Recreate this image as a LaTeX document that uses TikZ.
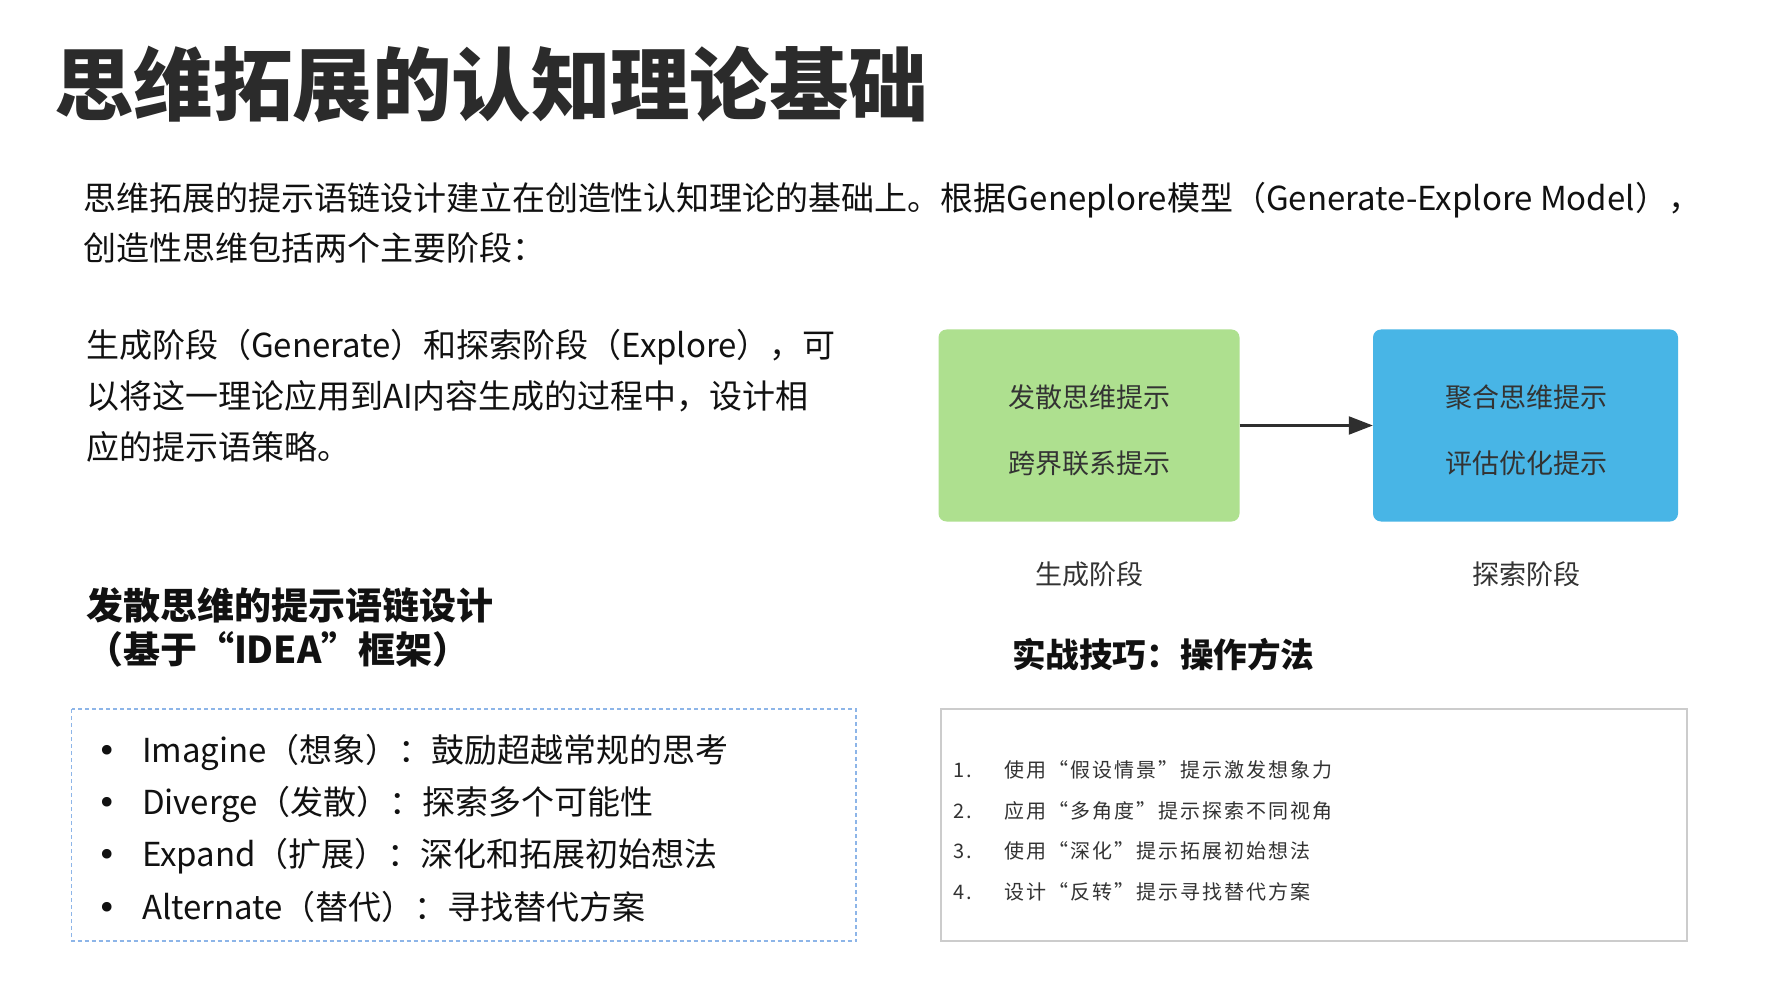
\documentclass[tikz,border=0pt]{standalone}
\usepackage{fontspec}
\setmainfont{Noto Sans CJK SC}
\newfontfamily\symfont{DejaVu Sans}
\usetikzlibrary{arrows.meta}
\definecolor{titlec}{HTML}{2B2B2B}
\definecolor{bodyc}{HTML}{111111}
\definecolor{boxtxt}{HTML}{333333}
\definecolor{greenbox}{HTML}{AEE08F}
\definecolor{bluebox}{HTML}{48B5E6}
\definecolor{dashc}{HTML}{8DB5E8}
\definecolor{framec}{HTML}{CCCCCC}
\definecolor{arrowc}{HTML}{2E2E2E}
\tikzset{
  txt/.style={inner sep=0pt, outer sep=0pt, text=bodyc},
  titlefont/.style={font=\fontsize{79.5}{90}\selectfont\bfseries, text=titlec},
  bodyfont/.style={font=\fontsize{33}{40}\selectfont},
  headfont/.style={font=\fontsize{37}{44}\selectfont\bfseries},
  boxfont/.style={font=\fontsize{27}{32}\selectfont, text=boxtxt},
  listfont/.style={font=\fontsize{20}{24}\selectfont\addfontfeature{LetterSpace=10}, text=boxtxt},
  stagebox/.style={draw=none, rounded corners=8pt, minimum height=192pt, inner sep=0pt},
  flowarrow/.style={draw=arrowc, line width=2.2pt, -{Triangle[length=24pt,width=18pt]}},
}
\begin{document}
\begin{tikzpicture}[x=1pt,y=-1pt]
\path[use as bounding box, fill=white] (0,0) rectangle (1778,1000);

% title
\node[txt, titlefont, anchor=base west] (title) at (54,115) {思维拓展的认知理论基础};

% intro paragraph
\node[txt, bodyfont, anchor=base west] (p1) at (83,211) {思维拓展的提示语链设计建立在创造性认知理论的基础上。根据Geneplore模型（Generate-Explore Model），};
\node[txt, bodyfont, anchor=base west] (p2) at (83,261) {创造性思维包括两个主要阶段：};

% left paragraph
\node[txt, bodyfont, anchor=base west] (q1) at (86,357) {生成阶段（Generate）和探索阶段（Explore），可};
\node[txt, bodyfont, anchor=base west] (q2) at (86,408.5) {以将这一理论应用到AI内容生成的过程中，设计相};
\node[txt, bodyfont, anchor=base west] (q3) at (86,459.5) {应的提示语策略。};

% stage boxes
\node[stagebox, fill=greenbox, minimum width=301pt] (gen) at (1089,425.5) {};
\node[stagebox, fill=bluebox, minimum width=305pt] (exp) at (1525.5,425.5) {};
\node[txt, boxfont] (g1) at (1089.5,397) {发散思维提示};
\node[txt, boxfont] (g2) at (1089.5,463) {跨界联系提示};
\node[txt, boxfont] (b1) at (1526,397) {聚合思维提示};
\node[txt, boxfont] (b2) at (1526,463) {评估优化提示};
\draw[flowarrow] (gen.east) -- (exp.west);
\node[txt, boxfont] (lg) at (1089.5,574) {生成阶段};
\node[txt, boxfont] (lb) at (1526,574) {探索阶段};

% headings
\node[txt, headfont, anchor=base west] (h1) at (86,619) {发散思维的提示语链设计};
\node[txt, headfont, anchor=base west] (h2) at (86,663.5) {（基于“IDEA”框架）};
\node[txt, font=\fontsize{33.6}{40}\selectfont\bfseries, anchor=base west] (h3) at (1012,667.5) {实战技巧：操作方法};

% IDEA box
\draw[dashc, line width=1.3pt, dash pattern=on 4pt off 3pt] (71.5,709) rectangle (856,941);
\foreach \yy/\tt [count=\i] in {762/{Imagine（想象）：鼓励超越常规的思考},814/{Diverge（发散）：探索多个可能性},866/{Expand（扩展）：深化和拓展初始想法},919/{Alternate（替代）：寻找替代方案}}{
  \node[txt, font=\fontsize{33}{40}\symfont, anchor=base] (bul\i) at (107,\yy) {•};
  \node[txt, bodyfont, anchor=base west] (it\i) at (142,\yy) {\tt};
}

% practice box
\draw[framec, line width=1.3pt] (941,709) rectangle (1687,941);
\foreach \yy/\nn/\tt [count=\i] in {777/1./{使用“假设情景”提示激发想象力},818/2./{应用“多角度”提示探索不同视角},858/3./{使用“深化”提示拓展初始想法},899/4./{设计“反转”提示寻找替代方案}}{
  \node[txt, listfont, anchor=base west] (num\i) at (953.5,\yy) {\nn};
  \node[txt, listfont, anchor=base west] (li\i) at (1004.5,\yy) {\tt};
}
\end{tikzpicture}
\end{document}
